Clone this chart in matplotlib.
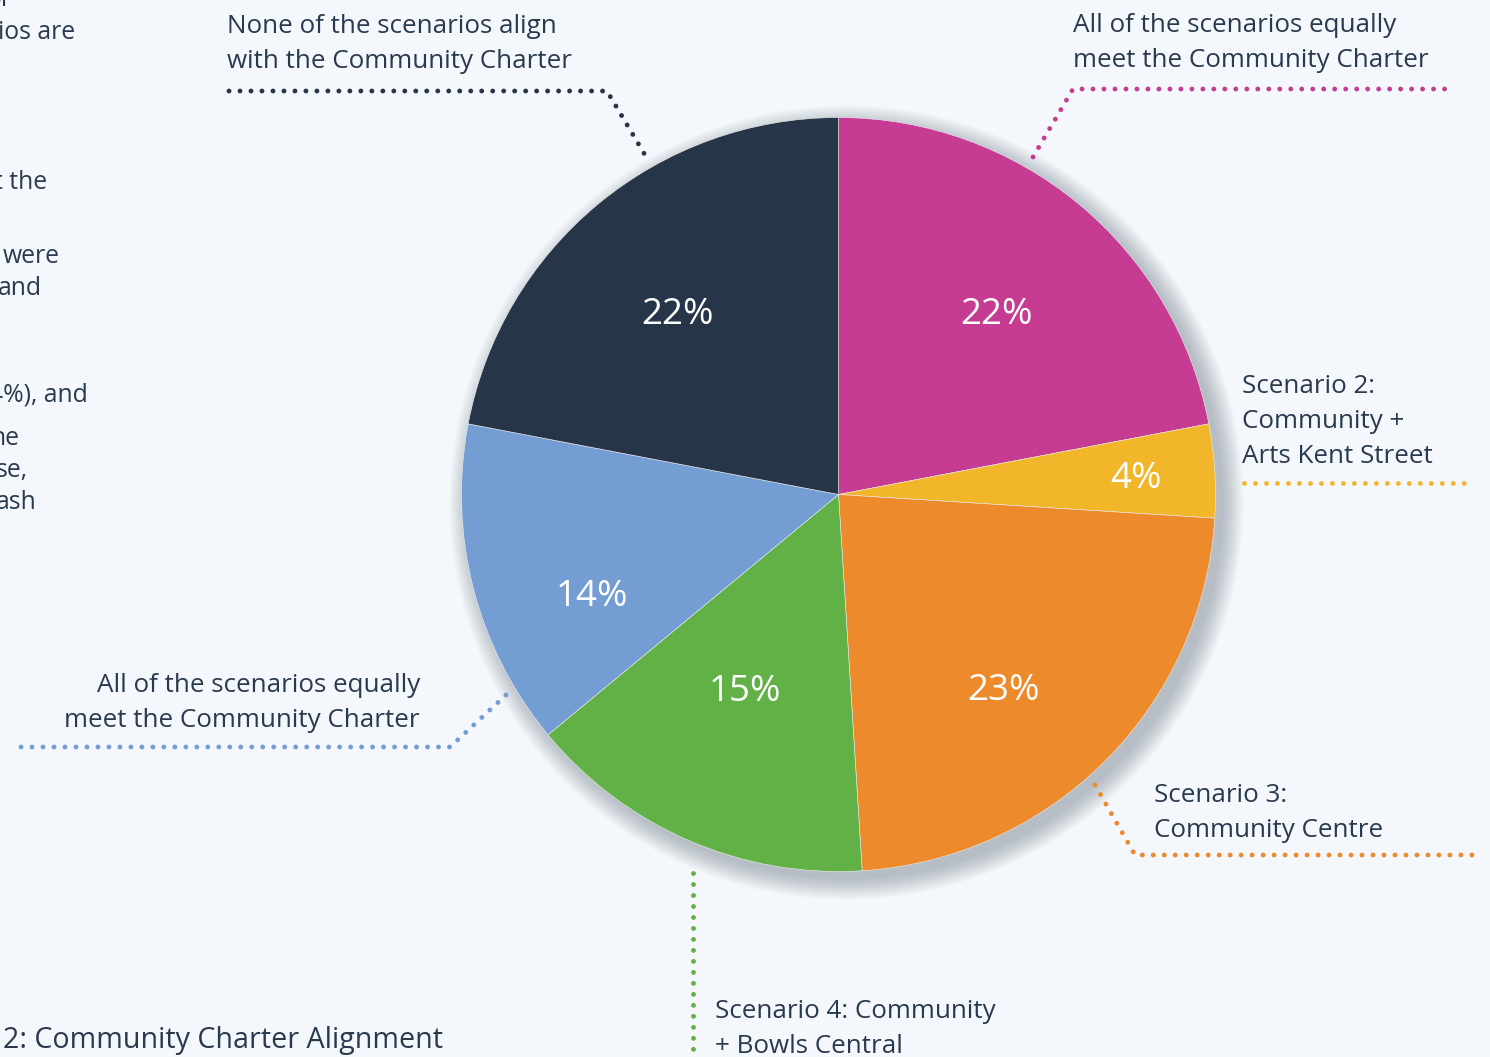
import numpy as np
import matplotlib
matplotlib.use('Agg')
import matplotlib.pyplot as plt
from matplotlib.patches import Circle

W, H = 1490, 1057

# slices, clockwise from 12 o'clock
shares = [22, 4, 23, 15, 14, 22]
colors = ['#c63c93', '#f2b62a', '#ec8a2c', '#62b146', '#739dd3', '#273548']
pct_labels = ['22%', '4%', '23%', '15%', '14%', '22%']
label_dist = [0.643, 0.791, 0.673, 0.568, 0.703, 0.647]
label_turn = [-1.2, 0.3, -4.3, -2.5, 7.2, 1.6]

callouts = [
    (['All of the scenarios equally', 'meet the Community Charter'], 'left'),
    (['Scenario 2:', 'Community +', 'Arts Kent Street'], 'left'),
    (['Scenario 3:', 'Community Centre'], 'left'),
    (['Scenario 4: Community', '+ Bowls Central'], 'left'),
    (['All of the scenarios equally', 'meet the Community Charter'], 'right'),
    (['None of the scenarios align', 'with the Community Charter'], 'left'),
]
title = '2: Community Charter Alignment'
side_text = ['or', 'rios are', 't the', 'were', 'and', '4%), and', 'ne', 'se,', 'ash']

bg = '#f4f7fc'
ink = '#2a3a4e'
plt.rcParams['font.family'] = ['Open Sans', 'DejaVu Sans']

fig = plt.figure(figsize=(W / 100, H / 100), dpi=100, facecolor=bg)
ax = fig.add_axes([0, 0, 1, 1])


def Y(y):
    # pixel row -> data y
    return H - y


cx, cy, r = 838.5, Y(494.5), 377

# soft drop shadow to the lower right
for k in range(22):
    ax.add_patch(Circle((cx + 8, cy - 8), r + 20 - k, color='#6f7a88',
                        alpha=0.022, lw=0, zorder=1))

wedges, _ = ax.pie(shares, colors=colors, startangle=90, counterclock=False,
                   center=(cx, cy), radius=r, frame=True,
                   wedgeprops=dict(linewidth=0.4, edgecolor='#eeeeee'))
for w in wedges:
    w.set_zorder(3)
ax.set_xlim(0, W)
ax.set_ylim(0, H)
ax.set_aspect('equal')
ax.axis('off')

for w, lab, d, t in zip(wedges, pct_labels, label_dist, label_turn):
    a = np.deg2rad((w.theta1 + w.theta2) / 2 + t)
    ax.text(cx + d * r * np.cos(a), cy + d * r * np.sin(a), lab, color='white',
            fontsize=26.5, ha='center', va='center_baseline', zorder=5)

# leader lines (pixel rows), same order as the slices
leaders = [
    ([1033, 1073, 1452], [157, 89, 89]),
    ([1244, 1472], [483, 483]),
    ([1095, 1135, 1475], [785, 855, 855]),
    ([693, 693], [873, 1053]),
    ([506, 450, 18], [695, 747, 747]),
    ([229, 607, 648], [91, 91, 160]),
]
for (xs, ys), c in zip(leaders, colors):
    ax.plot(xs, [Y(v) for v in ys], color=c, lw=3.5, ls=(0, (0.01, 2.25)),
            dash_capstyle='round', solid_capstyle='round', zorder=4)

anchors = [(1073, 32), (1242, 393), (1154, 802), (715, 1018), (420, 692), (227, 33)]
pitch = 35
for (lines, ha), (x0, y0) in zip(callouts, anchors):
    for i, ln in enumerate(lines):
        ax.text(x0, Y(y0 + i * pitch), ln, color=ink, fontsize=18.7,
                ha=ha, va='baseline', zorder=5)

ax.text(3, Y(1048), title, color=ink, fontsize=20.6, ha='left', va='baseline')

# fragments of a paragraph cut off by the left edge
side_pos = [(12, 6), (75, 39), (47, 189), (60, 263), (42, 295),
            (88, 402), (20, 445), (28, 477), (37, 509)]
for s, (x1, y0) in zip(side_text, side_pos):
    ax.text(x1, Y(y0), s, color=ink, fontsize=17.8, ha='right', va='baseline')

fig.savefig('out.png', dpi=100, facecolor=bg)
